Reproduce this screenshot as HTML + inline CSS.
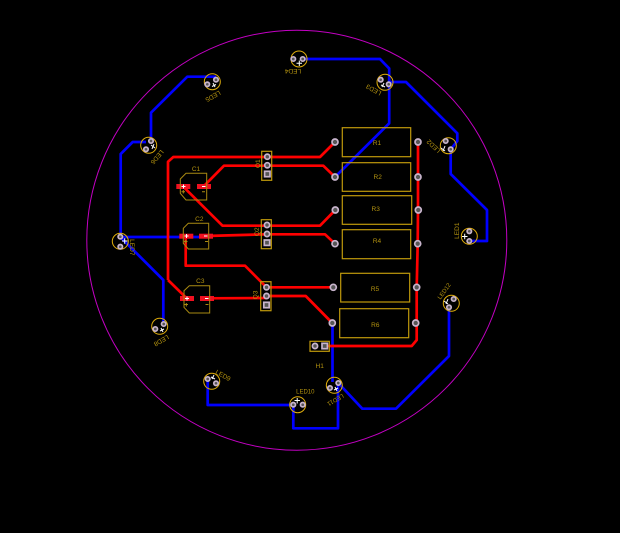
<!DOCTYPE html>
<html><head><meta charset="utf-8"><style>
html,body{margin:0;padding:0;background:#000;width:620px;height:533px;overflow:hidden}
svg{display:block}
text{font-family:"Liberation Sans",sans-serif;font-size:6.5px;fill:#b4930f;text-anchor:middle;dominant-baseline:central}
.r{fill:none;stroke:#ff0000;stroke-width:2.7;stroke-linejoin:round}
.b{fill:none;stroke:#0000ff;stroke-width:2.7;stroke-linejoin:round}
.s{fill:none;stroke:#a98a12;stroke-width:1}
.y{fill:none;stroke:#c09a0c;stroke-width:1.2}
.l{fill:none;stroke:#e0ae0c;stroke-width:1}
.p{fill:#555;stroke:#c8b4cc;stroke-width:1.7}
.q{fill:#555;stroke:#c8b4cc;stroke-width:1.7}
.m{stroke:#fff;stroke-width:1;fill:none}
.pad{fill:#f01020}
</style></head><body>
<svg width="620" height="533" viewBox="0 0 620 533" xmlns="http://www.w3.org/2000/svg">
<rect width="620" height="533" fill="#000"/>
<circle cx="296.8" cy="240.2" r="210" fill="none" stroke="#c400c4" stroke-width="1"/>

<!-- blue -->
<path class="b" d="M302.7 59H380L389.2 68.5V123.3L335 177"/>
<path class="b" d="M388.7 82H406L457.3 133.3V141L450.7 149.3V174L487 210V241H469.3"/>
<path class="b" d="M216 76.7H187.3L151 112.7V141"/>
<path class="b" d="M146 142H132.7L120.7 154V237"/>
<path class="b" d="M120.3 237H206"/>
<path class="b" d="M120.3 237L163.3 280V324"/>
<path class="b" d="M207.7 379V405H293.3"/>
<path class="b" d="M293.3 405V428.3H338V383"/>
<path class="b" d="M332.5 323V382"/>
<path class="b" d="M449 307.3V356L396 408.7H362.3L338.3 383"/>

<!-- red -->
<path class="r" d="M168 280V161.7L173.3 157H320L335 142"/>
<path class="r" d="M168 280L186.7 298.3"/>
<path class="r" d="M204 186L224 165.7H323.3L335 177"/>
<path class="r" d="M183.3 186.7L222.5 225.7H320L335.3 210"/>
<path class="r" d="M206 236L267 234.3H325L335 243.7"/>
<path class="r" d="M185.7 236V265.7H245L266.5 287.3H333.3"/>
<path class="r" d="M206.7 298.3L266.5 298"/>
<path class="r" d="M266.5 296H305.7L332.3 323"/>
<path class="r" d="M418 142V210L417.7 243.7L416.7 287.3V340L411.7 346H325"/>

<!-- smd pads -->
<rect class="pad" x="176.3" y="184" width="14" height="5"/>
<rect class="pad" x="197" y="184" width="14" height="5"/>
<rect class="pad" x="179.3" y="233.7" width="14" height="5"/>
<rect class="pad" x="199" y="233.7" width="14" height="5"/>
<rect class="pad" x="180" y="296" width="14" height="5"/>
<rect class="pad" x="200" y="296" width="14" height="5"/>
<path class="m" d="M181.5 186.5h4M183.5 184.5v4M202 186.5h3.5M184.5 236h4M186.5 234v4M204 236h3.5M185 298.5h4M187 296.5v4M205 298.5h3.5"/>

<!-- capacitor silk -->
<path class="s" d="M186 173.3H206.7V200H186L180.3 193.3V179Z"/>
<path class="s" d="M188.3 223.3H208.7V249H188.3L183.3 243.3V228.3Z"/>
<path class="s" d="M189.3 285.7H209.7V313H189.3L184 307.3V290.7Z"/>
<path class="s" d="M181.5 191.7h3.5M183.3 190v3.5M202 191.7h3M184 241.5h3.5M185.7 240v3.5M205 241.5h3M184.5 304.5h3.5M186.3 303v3.5M205.5 304.5h3"/>
<text x="196" y="169.7">C1</text>
<text x="199.3" y="219.7">C2</text>
<text x="200.3" y="281.7">C3</text>

<!-- resistors -->
<rect class="y" x="342.3" y="127.7" width="68.4" height="29"/>
<rect class="y" x="342.3" y="162.7" width="68.4" height="28.6"/>
<rect class="y" x="342.3" y="195.7" width="69.4" height="28.6"/>
<rect class="y" x="342.3" y="229.7" width="68.4" height="29"/>
<rect class="y" x="340.7" y="273.3" width="69" height="28.7"/>
<rect class="y" x="339.7" y="308.7" width="69" height="29"/>
<text x="377" y="143.3">R1</text>
<text x="377.7" y="177.7">R2</text>
<text x="375.7" y="209.7">R3</text>
<text x="377" y="241.3">R4</text>
<text x="375" y="289.3">R5</text>
<text x="375.3" y="325.7">R6</text>

<!-- through-hole pads -->
<g class="p">
<circle class="p" cx="335" cy="142" r="3"/><circle class="p" cx="335" cy="177" r="3"/>
<circle class="p" cx="335.3" cy="210" r="3"/><circle class="p" cx="335" cy="243.7" r="3"/>
<circle class="p" cx="333.3" cy="287.3" r="3"/><circle class="p" cx="332.3" cy="323" r="3"/>
<circle class="p" cx="418" cy="142" r="3"/><circle class="p" cx="418" cy="177" r="3"/>
<circle class="p" cx="418.3" cy="210" r="3"/><circle class="p" cx="417.7" cy="243.7" r="3"/>
<circle class="p" cx="416.7" cy="287.3" r="3"/><circle class="p" cx="415.7" cy="323" r="3"/>
</g>

<!-- Q headers -->
<rect class="y" x="261.7" y="151.3" width="10" height="29"/>
<rect class="y" x="261.3" y="219.7" width="10" height="29"/>
<rect class="y" x="260.7" y="281.7" width="10.3" height="29"/>
<circle class="p" cx="267.3" cy="156.7" r="2.6"/><circle class="p" cx="267.3" cy="165.3" r="2.6"/><rect class="q" x="264.6" y="171.3" width="5.4" height="5.4"/>
<circle class="p" cx="267" cy="225" r="2.6"/><circle class="p" cx="267" cy="234" r="2.6"/><rect class="q" x="264.3" y="240" width="5.4" height="5.4"/>
<circle class="p" cx="266.5" cy="287.3" r="2.6"/><circle class="p" cx="266.5" cy="296" r="2.6"/><rect class="q" x="263.8" y="302.3" width="5.4" height="5.4"/>
<text transform="translate(258.3 163.7) rotate(-90)">Q1</text>
<text transform="translate(257.3 231.7) rotate(-90)">Q2</text>
<text transform="translate(256 295) rotate(-90)">Q3</text>

<!-- H1 -->
<rect class="y" x="310" y="341.3" width="19.3" height="10"/>
<circle class="p" cx="315" cy="346" r="2.6"/><rect class="q" x="322" y="343.3" width="5.4" height="5.4"/>
<text x="319.7" y="366.7">H1</text>

<!-- LEDs -->
<g>
<circle class="l" cx="299" cy="59" r="8"/><circle class="p" cx="293.3" cy="59" r="2.2"/><circle class="p" cx="302.7" cy="59" r="2.2"/><path class="m" d="M296.5 63.3h5.5M299.3 60.5v5.5"/>
<circle class="l" cx="212.3" cy="81.7" r="8"/><circle class="p" cx="207.3" cy="84.3" r="2.2"/><circle class="p" cx="216" cy="79.7" r="2.2"/><path class="m" d="M212 86.5l4-2M213 83l2 4"/>
<circle class="l" cx="148.7" cy="145.3" r="8"/><circle class="p" cx="146" cy="149.3" r="2.2"/><circle class="p" cx="151" cy="141" r="2.2"/><path class="m" d="M151 145l4 3M154 144l-2 5"/>
<circle class="l" cx="120.3" cy="241.3" r="8"/><circle class="p" cx="120.3" cy="236.7" r="2.2"/><circle class="p" cx="120.3" cy="246.7" r="2.2"/><path class="m" d="M122 241h5.5M124.7 238.3v5.5"/>
<circle class="l" cx="159.7" cy="326.3" r="8"/><circle class="p" cx="155.3" cy="329" r="2.2"/><circle class="p" cx="163.7" cy="324" r="2.2"/><path class="m" d="M160 331l4-2M161 328l2 4"/>
<circle class="l" cx="211.7" cy="381.3" r="8"/><circle class="p" cx="207.7" cy="379" r="2.2"/><circle class="p" cx="216" cy="383.3" r="2.2"/><path class="m" d="M211 377l4 2M214 375l-2 4"/>
<circle class="l" cx="297.7" cy="404.7" r="8"/><circle class="p" cx="293.3" cy="404.7" r="2.2"/><circle class="p" cx="302.7" cy="404.7" r="2.2"/><path class="m" d="M294.5 400.5h5.5M297.2 398v5.5"/>
<circle class="l" cx="334.3" cy="385.3" r="8"/><circle class="p" cx="330" cy="388" r="2.2"/><circle class="p" cx="338.3" cy="383" r="2.2"/><path class="m" d="M334 390l4-2M335 387l2 4"/>
<circle class="l" cx="451.3" cy="303.3" r="8"/><circle class="p" cx="449" cy="307.3" r="2.2"/><circle class="p" cx="453.7" cy="299" r="2.2"/><path class="m" d="M444 301l4 3M448 299l-2 5"/>
<circle class="l" cx="469.3" cy="236.3" r="8"/><circle class="p" cx="469.3" cy="231.3" r="2.2"/><circle class="p" cx="469.3" cy="241" r="2.2"/><path class="m" d="M462 236.5h5.5M464.7 233.7v5.5"/>
<circle class="l" cx="448.3" cy="145.7" r="8"/><circle class="p" cx="445.7" cy="141" r="2.2"/><circle class="p" cx="450.7" cy="149.3" r="2.2"/><path class="m" d="M441 148l4 3M445 146l-2 5"/>
<circle class="l" cx="385" cy="82.3" r="8"/><circle class="p" cx="380.7" cy="79.7" r="2.2"/><circle class="p" cx="388.7" cy="84.3" r="2.2"/><path class="m" d="M381 85l4 2M384 83l-2 4"/>
</g>
<text transform="translate(293 70.7) rotate(180)">LED4</text>
<text transform="translate(212.7 95.7) rotate(150)">LED5</text>
<text transform="translate(156.7 156.7) rotate(130)">LED6</text>
<text transform="translate(131.7 247.3) rotate(90)">LED7</text>
<text transform="translate(161 340) rotate(150)">LED8</text>
<text transform="translate(222.7 376) rotate(29)">LED9</text>
<text x="305.3" y="392.7" style="font-size:6px">LED10</text>
<text transform="translate(335 399) rotate(150)" style="font-size:6px">LED11</text>
<text transform="translate(445 291.7) rotate(-55)" style="font-size:6px">LED12</text>
<text transform="translate(457.7 230.7) rotate(-90)">LED1</text>
<text transform="translate(434 145.7) rotate(223)">LED2</text>
<text transform="translate(374 89.3) rotate(209)">LED3</text>
</svg>
</body></html>
